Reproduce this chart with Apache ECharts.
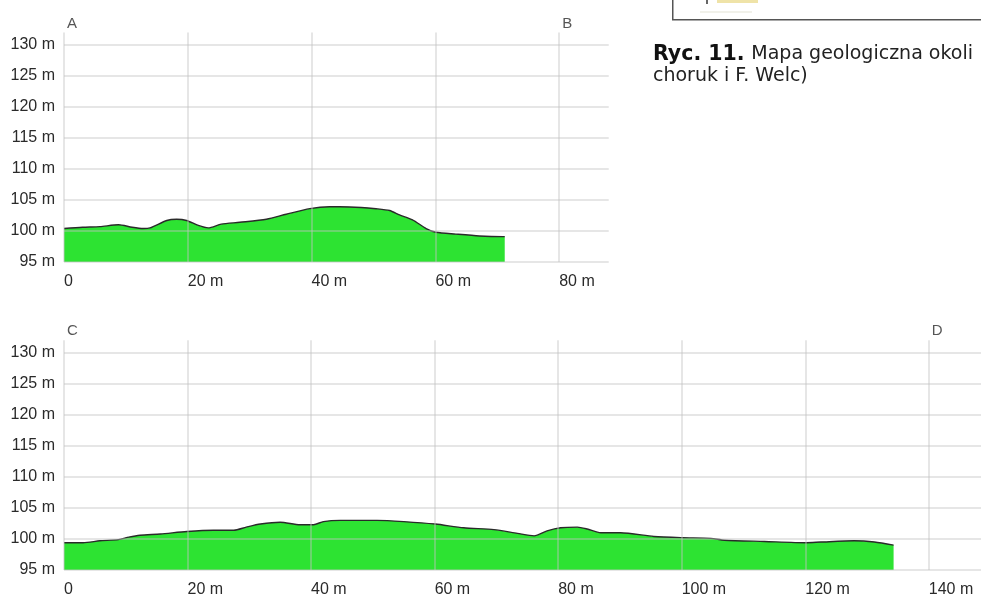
<!DOCTYPE html>
<html>
<head>
<meta charset="utf-8">
<script src="https://cdn.jsdelivr.net/npm/echarts@6/dist/echarts.min.js"></script>
<style>
html,body{margin:0;padding:0;background:#fff;}
#c{width:981px;height:598px;}
</style>
</head>
<body>
<div id="c"></div>
<script>
// Profile A-B: [distance m, elevation m]
var profileAB = [[0,100.4],[3,100.6],[5.8,100.7],[8.8,101.0],[11,100.6],[12.8,100.4],[13.9,100.5],[16.6,101.7],[18.2,101.9],[19.8,101.7],[21.7,100.9],[23.3,100.5],[25.4,101.1],[28.4,101.4],[32.7,101.9],[35.9,102.7],[39.7,103.6],[42.9,103.9],[44.5,103.9],[48,103.8],[50.4,103.6],[52.6,103.3],[54.2,102.6],[56.3,101.8],[58.5,100.4],[60.1,99.8],[63.3,99.5],[67.1,99.2],[70.9,99.1],[71.2,99.1]];
// Profile C-D: [distance m, elevation m]
var profileCD = [[0,99.4],[3.1,99.4],[5.8,99.7],[8.8,99.9],[10.5,100.3],[12.3,100.6],[15.6,100.8],[19.9,101.2],[24.2,101.4],[27.5,101.4],[29.5,101.9],[31.8,102.4],[35,102.7],[38.2,102.3],[40.4,102.3],[42,102.8],[44.7,103.0],[50.7,103.0],[55,102.8],[60.1,102.4],[64.7,101.8],[69.6,101.5],[73.4,100.9],[76.1,100.5],[78.2,101.3],[80.4,101.8],[83.1,101.9],[84.7,101.6],[86.9,101.0],[90.1,101.0],[95.5,100.4],[100.1,100.2],[104.7,100.1],[106.9,99.8],[113.4,99.6],[120.2,99.4],[122.5,99.5],[127.9,99.7],[131.2,99.5],[134.3,99.0]];
// End-point labels
var labelsAB = [{name:'A', value:[0,132]},{name:'B', value:[80,132]}];
var labelsCD = [{name:'C', value:[0,132]},{name:'D', value:[140,132]}];
var yMin = 95, yMax = 132, yStep = 5;
var xMaxAB = 88, xMaxCD = 148.45, xStep = 20;
var captionBold = 'Ryc. 11.';
var captionLine1 = 'Mapa geologiczna okoli';
var captionLine2 = 'choruk i F. Welc)';

var FONT = '"Liberation Sans", Arial, sans-serif';
var gridColor = 'rgba(195,195,195,0.55)';
var fill = '#2de332';

function yAx(idx){
  return {
    type:'value', gridIndex:idx, min:yMin, max:yMax, interval:yStep, z:5,
    axisLine:{show:false}, axisTick:{show:false},
    splitLine:{show:true, showMaxLine:false, lineStyle:{color:gridColor, width:1.5}},
    axisLabel:{showMaxLabel:false, margin:9, color:'#2a2a2a', fontFamily:FONT, fontSize:16,
      verticalAlign:'middle', padding:[0,0,10,0],
      formatter:function(v){ return (v % 5 === 0) ? v + ' m' : ''; }}
  };
}
function xAx(idx, max){
  return {
    type:'value', gridIndex:idx, min:0, max:max, interval:xStep, z:5,
    axisLine:{show:false}, axisTick:{show:false},
    splitLine:{show:true, showMaxLine:false, lineStyle:{color:gridColor, width:1.5}},
    axisLabel:{showMaxLabel:false, margin:12, align:'left', color:'#2a2a2a', fontFamily:FONT, fontSize:16,
      formatter:function(v){ if (v % 20 !== 0) return ''; return v === 0 ? '0' : v + ' m'; }}
  };
}
function profileSeries(idx, data){
  return {
    type:'line', xAxisIndex:idx, yAxisIndex:idx, data:data, symbol:'none', smooth:0.25,
    lineStyle:{color:'#2a2a2a', width:1.4}, areaStyle:{color:fill, opacity:1, origin:'start'}, z:2
  };
}
function labelSeries(idx, data){
  return {
    type:'scatter', xAxisIndex:idx, yAxisIndex:idx, data:data, symbolSize:0, clip:false, z:6,
    label:{show:true, position:[3,-9], align:'left', verticalAlign:'middle', color:'#2a2a2a',
      fontFamily:FONT, fontSize:15, formatter:function(p){return p.name;}}
  };
}

var chart = echarts.init(document.getElementById('c'), null, {renderer:'canvas'});
chart.setOption({
  backgroundColor:'#fff',
  animation:false,
  grid:[
    {left:64, top:32.6, width:xMaxAB*6.19, height:229.4},
    {left:64, top:340.3, right:0, height:229.7}
  ],
  xAxis:[xAx(0,xMaxAB), xAx(1,xMaxCD)],
  yAxis:[yAx(0), yAx(1)],
  series:[profileSeries(0,profileAB), profileSeries(1,profileCD), labelSeries(0,labelsAB), labelSeries(1,labelsCD)],
  graphic:[
    {type:'rect', left:672, top:-10, shape:{width:330, height:29}, style:{fill:'#fff', stroke:'#555', lineWidth:1.5}},
    {type:'rect', left:717, top:0, shape:{width:41, height:3}, style:{fill:'#efe3a8'}},
    {type:'rect', left:706, top:0, shape:{width:2, height:4}, style:{fill:'#666'}},
    {type:'rect', left:700, top:11, shape:{width:52, height:2}, style:{fill:'#f1f1ea'}},
    {type:'text', x:653, y:54.5, style:{
      text:'{b|' + captionBold + '}  {r|' + captionLine1 + '}',
      verticalAlign:'middle', align:'left',
      rich:{
        b:{fontFamily:'"DejaVu Sans", sans-serif', fontWeight:'bold', fontSize:20.5, fill:'#111'},
        r:{fontFamily:'"DejaVu Sans", sans-serif', fontSize:19, fill:'#222'}
      }}},
    {type:'text', x:653, y:76.5, style:{text:captionLine2, verticalAlign:'middle', align:'left',
      fontFamily:'"DejaVu Sans", sans-serif', fontSize:19, fill:'#222'}}
  ]
});
</script>
</body>
</html>
